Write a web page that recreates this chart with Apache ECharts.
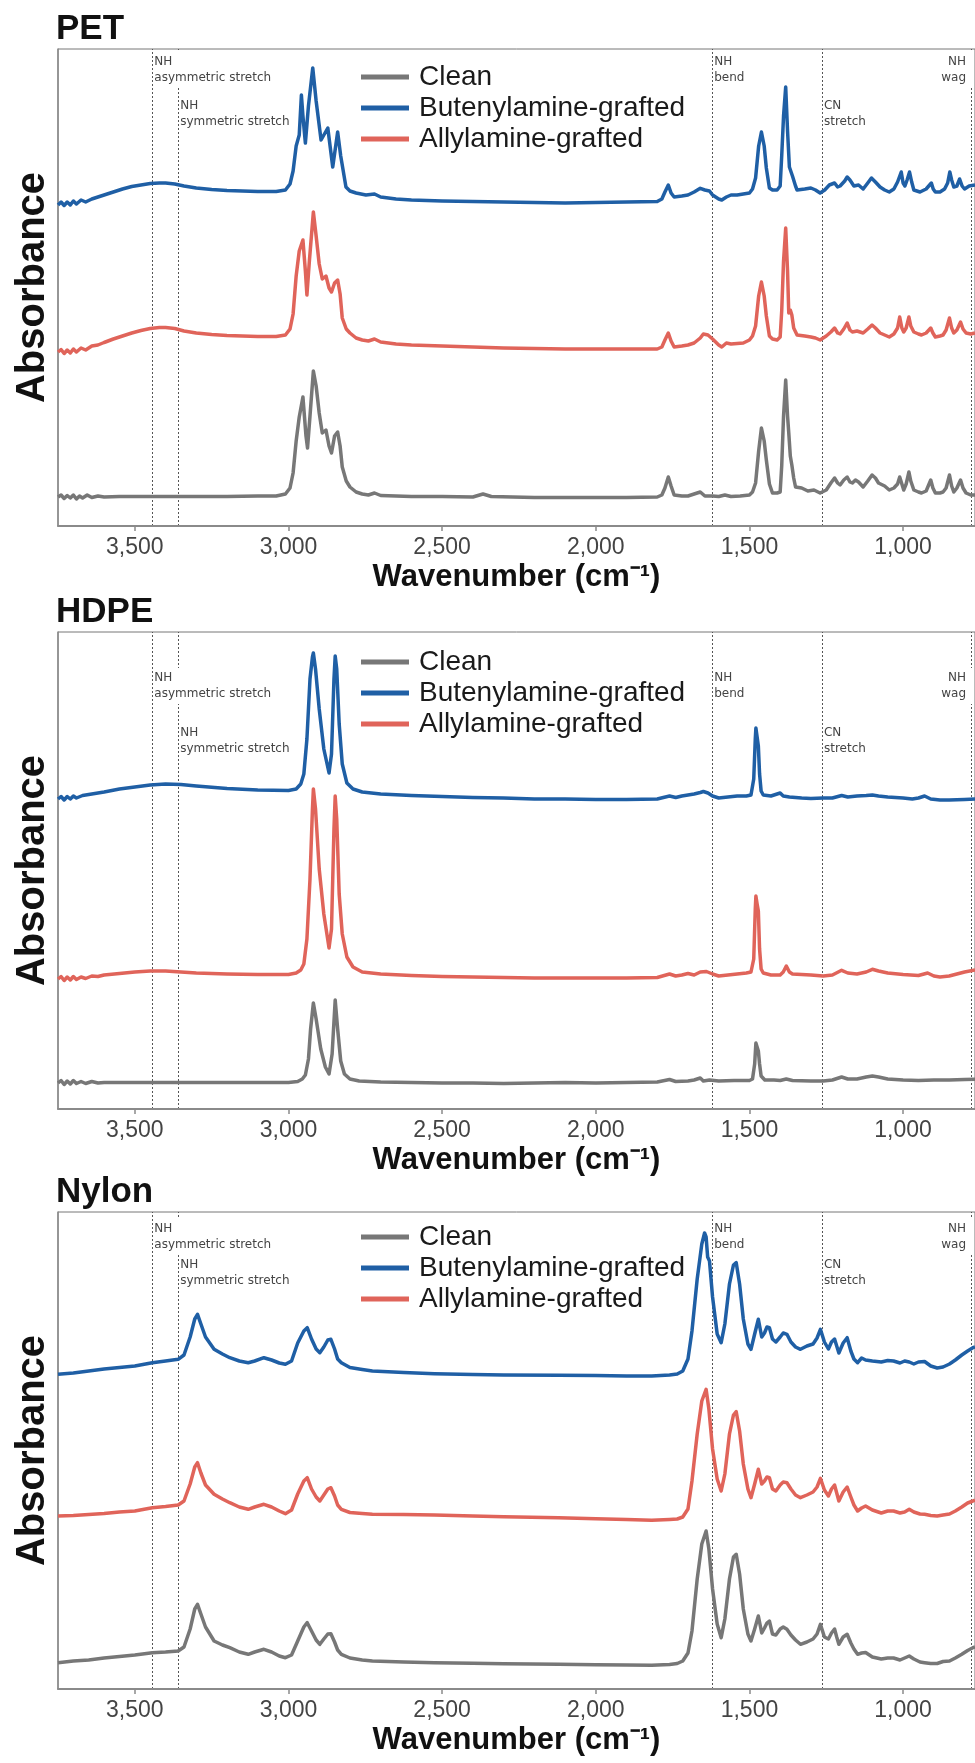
<!DOCTYPE html>
<html><head><meta charset="utf-8">
<script src="https://cdn.jsdelivr.net/npm/echarts@6/dist/echarts.min.js"></script>
<style>html,body{margin:0;padding:0;background:#fff}#c{width:975px;height:1763px}</style>
</head><body><div id="c"></div>
<script>
const panelNames = ['PET', 'HDPE', 'Nylon'];
const seriesNames = ['Clean', 'Butenylamine-grafted', 'Allylamine-grafted'];
const seriesColors = ['#777777', '#1f5fa5', '#e0645a'];
const tickValues = [3500, 3000, 2500, 2000, 1500, 1000];
const guideWavenumbers = [3443, 3359, 1621, 1264, 779];
const guideLabels = ['NH\nasymmetric stretch', 'NH\nsymmetric stretch', 'NH\nbend', 'CN\nstretch', 'NH\nwag'];

// [wavenumber, absorbance (arb., stacked)]
const petClean = [[3750,29],[3740,31],[3730,27.5],[3720,30.5],[3710,28],[3700,31],[3690,27],[3680,30],[3670,28],[3655,31],[3640,28.5],[3620,30],[3600,29],[3550,29.5],[3500,29.5],[3400,29.5],[3300,29.5],[3200,29.5],[3100,30],[3040,30],[3010,32],[2995,38],[2985,53],[2975,85],[2965,109],[2953,129],[2943,90],[2938,78],[2930,110],[2919,155],[2910,140],[2900,113],[2890,93],[2878,96],[2868,80],[2860,73],[2850,90],[2840,94],[2832,80],[2825,59],[2812,45],[2800,39],[2780,34],[2760,32],[2740,31],[2720,33],[2700,30.5],[2600,29.5],[2500,29.5],[2400,29],[2367,32],[2340,29.5],[2200,28.5],[2100,28.5],[2000,28.5],[1900,28.5],[1800,29],[1785,31],[1775,38],[1764,49],[1755,40],[1745,31],[1720,30],[1700,30],[1680,32],[1660,34],[1645,30],[1620,30],[1600,29.5],[1580,31],[1560,29.5],[1530,30],[1500,31],[1490,34],[1480,43],[1470,75],[1461,98],[1452,85],[1445,66],[1435,42],[1425,33],[1410,33],[1400,34],[1395,60],[1389,110],[1382,146],[1376,110],[1372,93],[1367,70],[1362,61],[1356,48],[1350,39],[1330,38],[1310,35],[1290,36],[1270,33],[1250,36],[1235,43],[1223,48],[1213,43],[1205,41],[1193,46],[1182,49],[1173,44],[1165,43],[1155,46],[1145,44],[1130,39],[1115,45],[1101,51],[1090,48],[1080,43],[1060,40],[1045,36],[1030,38],[1018,42],[1011,49],[1004,42],[998,36],[990,42],[981,54],[975,45],[965,36],[950,34],[940,33],[925,35],[910,46],[903,38],[895,33],[880,33],[870,34],[860,38],[849,51],[842,40],[835,34],[825,38],[813,46],[805,38],[795,33],[780,31],[766,31]];
const petButenyl = [[3750,321],[3740,324],[3730,320.5],[3720,324],[3710,321],[3700,325],[3690,322],[3675,326],[3660,324],[3640,327],[3620,329],[3600,331],[3570,334],[3540,337],[3510,339.5],[3480,341],[3450,342.5],[3420,343],[3400,343],[3370,342],[3340,340],[3300,338],[3250,336.5],[3200,335.5],[3100,334.5],[3040,334.5],[3010,336],[2995,342],[2985,355],[2975,380],[2965,391],[2958,431],[2953,410],[2945,383],[2935,420],[2921,458],[2910,425],[2894,386],[2872,398],[2856,359],[2840,394],[2830,370],[2813,339],[2800,335],[2780,333],[2748,331],[2720,332],[2700,329],[2650,327],[2600,326],[2500,325],[2400,324.5],[2300,324],[2200,323.5],[2100,323],[2000,323.5],[1900,324],[1800,324.5],[1785,327],[1775,334],[1764,341],[1755,333],[1745,329],[1720,330],[1700,331],[1680,334],[1660,337.7],[1645,336],[1630,335],[1620,331],[1600,327],[1590,326],[1575,329],[1560,331],[1540,331],[1520,332],[1500,333],[1490,337],[1480,348],[1470,380],[1461,394],[1452,380],[1445,358],[1435,338],[1425,336],[1410,336],[1400,340],[1395,370],[1389,410],[1382,439],[1376,395],[1370,359],[1365,357],[1360,350],[1350,340],[1345,336],[1320,337],[1300,338],[1285,336],[1270,333],[1255,336],[1240,341],[1223,343],[1213,339],[1205,340],[1190,345],[1182,349],[1173,346],[1160,340],[1145,341],[1130,337],[1115,343],[1103,348],[1090,344],[1075,339],[1060,336],[1045,334],[1030,337],[1018,344],[1006,354],[1000,343],[994,340],[987,346],[979,354],[972,344],[965,336],[955,335],[945,334],[925,337],[908,343],[902,337],[895,334],[880,334],[865,337],[855,343],[848,354],[842,346],[835,339],[825,340],[816,347],[808,340],[800,337],[785,340],[766,341]];
const petAllyl = [[3750,174],[3740,176.5],[3730,172.5],[3720,176],[3710,173],[3700,177],[3690,174],[3675,178],[3660,176],[3640,180],[3620,181],[3600,183.5],[3570,187],[3540,190],[3510,193],[3480,195.5],[3450,197.5],[3420,198.5],[3400,198.5],[3370,197.5],[3340,195],[3300,193],[3250,191.5],[3200,190.5],[3100,189.5],[3040,189.5],[3010,191],[2995,197],[2985,212],[2975,250],[2965,275],[2953,286],[2945,255],[2940,231],[2932,265],[2919,314],[2910,290],[2900,262],[2890,247],[2878,250],[2868,238],[2860,234],[2850,243],[2840,246],[2832,232],[2825,208],[2812,197],[2800,193],[2780,188],[2760,186],[2740,185],[2720,187],[2700,184],[2650,182],[2600,181],[2500,180],[2400,179],[2300,178],[2200,177.5],[2100,177],[2000,177],[1900,177],[1800,177],[1785,179],[1775,186],[1764,193],[1755,185],[1745,179],[1720,180],[1700,181],[1680,183],[1660,188],[1650,192],[1635,191],[1620,187],[1600,181],[1590,179],[1575,183],[1560,182],[1540,182.5],[1520,183],[1500,186],[1490,190],[1480,200],[1470,230],[1461,244],[1452,230],[1445,210],[1435,190],[1425,187],[1410,186],[1400,189],[1395,215],[1389,265],[1382,298],[1376,255],[1372,213],[1367,216],[1362,211],[1356,198],[1345,191],[1320,190],[1300,189],[1285,188],[1270,186],[1250,190],[1235,194],[1223,198],[1213,193],[1205,192],[1193,197],[1182,203],[1173,196],[1165,194],[1150,195],[1130,193],[1115,197],[1101,201],[1090,198],[1075,193],[1060,191],[1045,189],[1030,192],[1018,198],[1011,209],[1004,198],[998,194],[990,198],[981,209],[975,200],[965,194],[950,192],[940,191],[925,193],[910,198],[903,193],[895,189],[880,190],[870,191],[860,196],[849,208],[842,198],[835,193],[825,196],[813,204],[805,197],[795,193],[780,192],[766,193]];

const hdpeClean = [[3750,26],[3740,28.5],[3730,24.5],[3720,28],[3710,25],[3700,28.5],[3690,25.5],[3675,27.5],[3660,25.5],[3640,27.5],[3620,26],[3600,26.5],[3500,26.5],[3400,26.5],[3300,26.5],[3200,26.5],[3100,26.5],[3000,26.5],[2970,27.5],[2955,30],[2945,34],[2935,50],[2928,80],[2919,106],[2910,90],[2895,60],[2880,42],[2868,35],[2858,55],[2848,109],[2840,80],[2830,48],[2818,35],[2800,30],[2770,28],[2700,27],[2600,26.5],[2500,26],[2400,26],[2300,25.5],[2200,26],[2100,26.5],[2000,26],[1900,26.5],[1800,27],[1760,29.5],[1740,27.5],[1700,28],[1680,29],[1660,31],[1650,28],[1630,29],[1600,28],[1550,28.5],[1500,28.5],[1490,30],[1483,45],[1479,66],[1475,62],[1471,58],[1467,45],[1462,33],[1450,29],[1420,29],[1400,28.5],[1380,30],[1360,28.5],[1300,28],[1260,28],[1230,29],[1200,32],[1180,30],[1150,30],[1120,32],[1100,33],[1080,32],[1050,30],[1000,29],[950,28.5],[900,29],[850,29],[800,29.5],[766,29.7]];
const hdpeButenyl = [[3750,310],[3740,312.5],[3730,309],[3720,312.5],[3710,310],[3700,313],[3690,311],[3670,313.5],[3640,315],[3600,317],[3550,320],[3500,322],[3450,324],[3400,325],[3350,324.5],[3300,323],[3200,320.5],[3100,319],[3000,318.5],[2975,320],[2960,325],[2950,335],[2940,370],[2930,430],[2922,452],[2919,456],[2912,440],[2900,400],[2885,360],[2868,336],[2860,355],[2852,430],[2848,453],[2843,440],[2835,385],[2825,345],[2810,326],[2790,320],[2760,317],[2700,315],[2600,313.5],[2500,312.5],[2400,311.5],[2300,311],[2200,310],[2100,310],[2000,309.5],[1900,309.5],[1800,310],[1760,313],[1740,311.5],[1720,313],[1700,314],[1680,315],[1660,316.5],[1650,317.5],[1635,316],[1620,313],[1600,311],[1570,312],[1540,313],[1510,313],[1495,314],[1486,330],[1481,370],[1479,381],[1475,372],[1471,363],[1467,335],[1462,318],[1455,314],[1430,313],[1410,315],[1400,316],[1390,313],[1370,312],[1330,311],[1300,310.5],[1260,311],[1230,311],[1200,313.5],[1180,312],[1150,313],[1120,313.5],[1100,314],[1080,313],[1050,312],[1000,311],[970,310],[950,311],[930,313],[910,310],[880,309],[850,309],[800,309.5],[766,310]];
const hdpeAllyl = [[3750,130],[3740,132.5],[3730,128.5],[3720,132],[3710,129],[3700,132.5],[3690,129.5],[3675,132],[3660,130.5],[3640,133],[3620,132.5],[3600,134],[3550,135.5],[3500,137],[3450,138],[3400,138],[3350,137],[3300,136],[3200,135],[3100,134.5],[3000,134.5],[2975,136],[2960,139],[2950,145],[2940,170],[2930,230],[2922,300],[2919,320],[2912,300],[2900,240],[2885,195],[2868,161],[2860,180],[2852,280],[2848,313],[2843,290],[2835,215],[2825,175],[2810,152],[2790,142],[2760,137],[2700,135],[2600,133.5],[2500,132.5],[2400,132],[2300,131.5],[2200,131],[2100,131],[2000,131],[1900,131],[1800,131.5],[1760,135],[1740,133],[1720,134],[1700,135.5],[1680,134],[1660,137],[1640,137.5],[1620,135],[1600,133],[1570,134],[1540,135],[1510,136],[1495,137],[1486,150],[1481,200],[1479,213],[1475,205],[1471,198],[1467,160],[1462,140],[1455,136],[1430,134],[1400,134],[1390,137],[1380,143],[1370,137],[1360,135],[1300,134],[1260,133],[1230,134],[1200,138.7],[1180,136],[1150,135],[1120,137],[1100,139.7],[1080,138],[1050,136],[1000,134.5],[950,133.5],[920,136],[900,133],[880,132],[850,133],[800,137],[766,139]];

const nylonClean = [[3750,26.3],[3700,28],[3650,29],[3600,31],[3550,32.5],[3500,34],[3443,36.3],[3400,37],[3359,38],[3340,42],[3320,60],[3305,80],[3296,84.7],[3285,75],[3270,62],[3242,48],[3215,44],[3191,41.3],[3160,37],[3131,34.7],[3110,37],[3080,39.7],[3055,37],[3030,33],[3010,31.3],[2990,34],[2970,48],[2950,62],[2939,66.3],[2925,58],[2910,49],[2898,44.7],[2885,50],[2872,55],[2862,55.3],[2850,47],[2840,39],[2828,34.7],[2800,31],[2760,29],[2727,28],[2625,27],[2525,26.3],[2400,25.7],[2300,25.2],[2121,24.7],[2000,24.3],[1900,24],[1818,23.7],[1760,24.5],[1735,25.5],[1717,28],[1700,36],[1687,58],[1670,110],[1655,145],[1641,158],[1632,140],[1620,100],[1605,65],[1592,51.3],[1580,70],[1565,110],[1552,132],[1543,134.7],[1532,115],[1520,80],[1505,55],[1495,48],[1483,60],[1471,73],[1460,56],[1451,61],[1443,66],[1435,68],[1425,55],[1414,54],[1400,60],[1390,62],[1378,59.7],[1365,54],[1350,49],[1334,44.7],[1313,47],[1293,50],[1280,55],[1269,64.7],[1256,52],[1243,50],[1233,56],[1223,60],[1216,52],[1209,44.7],[1195,52],[1182,54.7],[1170,46],[1160,40],[1148,34.7],[1135,36],[1122,36.5],[1100,32],[1071,30],[1050,31],[1031,31],[1010,29],[995,31],[980,33],[965,30],[945,27],[930,26.3],[910,25.5],[889,25.5],[870,27.5],[849,28],[830,31],[809,34.7],[790,38.5],[773,41.3],[766,42]];
const nylonButenyl = [[3750,314.7],[3720,315.5],[3700,316],[3650,318],[3600,320],[3550,321.5],[3500,323],[3443,326.3],[3400,328],[3359,329.7],[3340,334],[3320,352],[3305,370],[3296,374.7],[3285,365],[3270,352],[3242,339.7],[3215,335],[3191,331.3],[3160,328],[3131,326.3],[3110,328],[3080,331.3],[3055,329],[3030,326],[3010,324.7],[2990,328],[2970,346],[2950,358],[2939,361.3],[2925,350],[2910,340],[2898,336.3],[2885,342],[2872,349],[2862,349.7],[2850,340],[2840,330],[2828,326.3],[2800,321.5],[2760,319.5],[2727,318],[2625,316.5],[2525,315.3],[2400,314.5],[2300,314],[2121,313.7],[2000,313.5],[1900,313],[1818,313],[1760,314],[1735,315],[1717,318],[1700,330],[1687,358],[1670,410],[1655,445],[1646,456],[1641,452],[1636,432],[1630,428],[1620,392],[1605,355],[1592,346.3],[1580,365],[1565,405],[1552,424],[1543,426.3],[1532,405],[1520,370],[1505,345],[1495,339.7],[1483,355],[1471,369.7],[1460,352],[1451,356],[1443,362],[1435,361.3],[1425,350],[1414,347],[1400,352],[1390,356],[1378,354.7],[1365,347],[1350,342],[1334,339.7],[1313,343],[1293,345],[1280,351],[1269,359.7],[1256,347],[1243,340],[1233,347],[1223,350],[1216,343],[1209,336],[1195,346],[1182,351.3],[1170,338],[1160,330],[1148,326.3],[1135,331],[1122,329],[1100,328],[1071,327],[1050,328.5],[1031,328],[1010,326],[995,328],[980,327],[965,325],[950,327],[930,327.5],[910,323],[889,321],[870,322],[849,325],[830,329],[809,334],[790,338],[773,341.3],[766,342]];
const nylonAllyl = [[3750,173],[3700,173.5],[3650,174.5],[3600,175.5],[3550,177],[3500,178],[3443,181.3],[3400,182.5],[3359,184],[3340,188],[3320,205],[3305,222],[3296,226.3],[3285,216],[3270,204],[3242,194.7],[3215,190],[3191,186.3],[3160,182],[3131,179.7],[3110,182],[3080,184.7],[3055,182],[3030,178],[3010,175.3],[2990,179],[2970,195],[2950,208],[2939,211.3],[2925,200],[2910,192],[2898,188],[2885,194],[2872,200],[2862,201.3],[2850,193],[2840,184],[2828,179.7],[2800,176.5],[2760,175.5],[2727,174.7],[2625,174.5],[2525,174],[2400,173],[2300,172.3],[2121,171.3],[2000,170.3],[1900,169.5],[1818,168.7],[1760,169.5],[1735,170],[1717,172],[1700,180],[1687,208],[1670,255],[1655,288],[1641,299.7],[1632,280],[1620,240],[1605,210],[1592,198],[1580,215],[1565,255],[1552,274],[1543,277.3],[1532,258],[1520,225],[1505,200],[1495,191.3],[1483,205],[1471,219.7],[1460,205],[1451,208],[1443,212],[1435,211.3],[1425,200],[1414,198],[1400,204],[1390,207],[1378,206.3],[1365,200],[1350,194],[1334,191.3],[1313,194],[1293,197],[1280,202],[1269,210.7],[1256,199],[1243,193],[1233,200],[1223,204],[1216,196],[1209,188],[1195,197],[1182,202],[1170,192],[1160,184],[1148,178],[1135,181],[1122,183],[1100,179],[1071,176],[1050,178],[1031,178],[1010,176],[995,177],[980,179.7],[965,177],[945,175],[930,174.7],[910,173.5],[889,173],[870,174],[849,175],[830,178],[809,182],[790,186],[773,188],[766,189]];

const panelData = [
  [petClean, petButenyl, petAllyl],
  [hdpeClean, hdpeButenyl, hdpeAllyl],
  [nylonClean, nylonButenyl, nylonAllyl]
];

// layout
const gridTops = [49, 632, 1212];
const gridHeight = 477;
const legendRow1 = [28, 30, 25];
const annRows = [[13, 57], [46, 101], [17, 53]];
const guideRow = [0, 1, 0, 1, 0];
const FONT = '"Liberation Sans", Arial, Helvetica, sans-serif';

const fmt = v => String(v).replace(/\B(?=(\d{3})+(?!\d))/g, ',');

const chart = echarts.init(document.getElementById('c'), null, {renderer: 'canvas'});
const option = {
  animation: false,
  backgroundColor: '#fff',
  title: panelNames.map((t, i) => ({
    text: t, left: 56, top: gridTops[i] - 40, padding: 0,
    textStyle: {fontSize: 35, fontWeight: 'bold', color: '#111', fontFamily: FONT, lineHeight: 40}
  })),
  grid: panelNames.map((t, i) => ({
    left: 58, top: gridTops[i], width: 919, height: gridHeight,
    show: true, borderColor: '#777', borderWidth: 1, backgroundColor: 'transparent'
  })),
  legend: panelNames.map((t, i) => ({
    data: seriesNames, orient: 'vertical', left: 361, top: gridTops[i] + legendRow1[i] - 15.5,
    itemWidth: 48, itemHeight: 5, itemGap: 0, icon: 'rect', padding: 0,
    textStyle: {fontSize: 28, color: '#1a1a1a', fontFamily: FONT, lineHeight: 31, padding: [0, 0, 0, 5]}
  })),
  xAxis: panelNames.map((t, i) => ({
    gridIndex: i, type: 'value', inverse: true, min: 766, max: 3750,
    axisLine: {show: true, lineStyle: {color: '#8a8a8a', width: 2}},
    axisTick: {show: true, customValues: tickValues, length: 5, lineStyle: {color: '#8a8a8a', width: 1.5}},
    axisLabel: {customValues: tickValues, formatter: fmt, fontSize: 23, color: '#444', margin: 10, fontFamily: FONT},
    splitLine: {show: false},
    name: 'Wavenumber (cm⁻¹)', nameLocation: 'middle', nameGap: 36,
    nameTextStyle: {fontSize: 31, fontWeight: 'bold', color: '#111', fontFamily: FONT}
  })),
  yAxis: panelNames.map((t, i) => ({
    gridIndex: i, type: 'value', min: 0, max: gridHeight,
    axisLine: {show: true, lineStyle: {color: '#8a8a8a', width: 1.5}},
    axisTick: {show: false}, axisLabel: {show: false}, splitLine: {show: false},
    name: 'Absorbance', nameLocation: 'middle', nameRotate: 90, nameGap: 5,
    nameTextStyle: {fontSize: 40, fontWeight: 'bold', color: '#111', fontFamily: FONT}
  })),
  series: []
};

panelNames.forEach((t, i) => {
  option.series.push({
    name: 'guides-' + t, type: 'line', xAxisIndex: i, yAxisIndex: i, data: [], silent: true,
    markLine: {
      z: 0, symbol: 'none', silent: true, animation: false, label: {show: false},
      lineStyle: {type: [2, 2], color: '#555', width: 1},
      data: guideWavenumbers.map(w => ({xAxis: w}))
    }
  });
  seriesNames.forEach((n, k) => {
    option.series.push({
      name: n, type: 'line', xAxisIndex: i, yAxisIndex: i, data: panelData[i][k],
      symbol: 'none', showSymbol: false, smooth: false, z: 3,
      lineStyle: {width: 3.5, color: seriesColors[k], join: 'round'}, itemStyle: {color: seriesColors[k]}
    });
  });
});

chart.setOption(option);

const g = [];
panelNames.forEach((t, i) => {
  guideWavenumbers.forEach((w, j) => {
    const x = chart.convertToPixel({xAxisIndex: i}, w);
    const yc = gridTops[i] + annRows[i][guideRow[j]];
    const right = j === guideWavenumbers.length - 1;
    g.push({
      type: 'text', z: 1, silent: true,
      style: {
        text: guideLabels[j], x: right ? x + 3 : x + 1, y: yc - 10,
        align: right ? 'right' : 'left', verticalAlign: 'top',
        font: '12px "DejaVu Sans", sans-serif', fill: '#444', lineHeight: 16,
        backgroundColor: '#fff', padding: right ? [2, 8, 2, 2] : [2, 2, 2, 1]
      }
    });
  });
});
chart.setOption({graphic: g});
</script>
</body></html>
